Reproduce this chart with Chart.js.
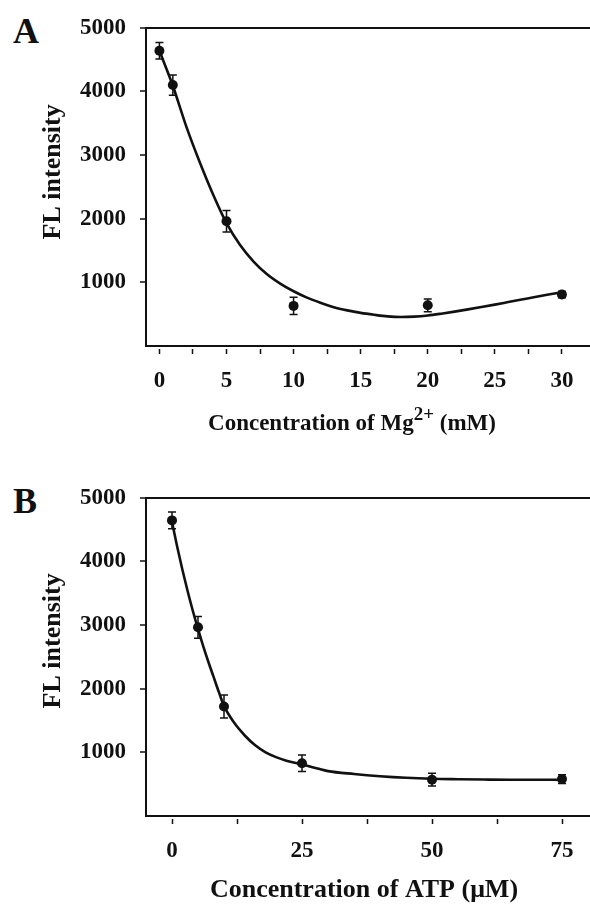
<!DOCTYPE html>
<html>
<head>
<meta charset="utf-8">
<script src="https://cdn.jsdelivr.net/npm/chart.js@4/dist/chart.umd.min.js"></script>
<style>
  html, body { margin:0; padding:0; background:#fff; }
  body { width:590px; height:904px; overflow:hidden; position:relative; }
  canvas { position:absolute; left:0; }
  #cA { top:0; }
  #cB { top:470px; }
  .panel { position:absolute; left:13px; font:bold 36px "Liberation Serif", "Times New Roman", serif; line-height:36px; color:#111; }
</style>
</head>
<body>
<div class="panel" style="top:13px">A</div>
<div class="panel" style="top:483px">B</div>
<canvas id="cA" width="634" height="452"></canvas>
<canvas id="cB" width="619" height="452"></canvas>
<script>
// ---- Panel A: Mg2+ ----
const mgConc = [0, 1, 5, 10, 20, 30];
const mgFL   = [4640, 4100, 1960, 630, 640, 810];
const mgErr  = [130, 160, 170, 135, 100, 50];
const mgFitX = [0, 1, 2, 3, 4, 5, 6, 7, 8, 9, 10, 11, 12, 13, 14, 15, 16, 17, 18, 19, 20, 21, 22, 23, 24, 25, 26, 27, 28, 29, 30];
const mgFitY = [4640, 4090, 3450, 2890, 2380, 1930, 1590, 1330, 1130, 980, 860, 760, 680, 610, 560, 520, 490, 465, 455, 462, 480, 508, 540, 575, 612, 650, 690, 730, 770, 808, 845];
const mgTickValues = [0, 2.5, 5, 7.5, 10, 12.5, 15, 17.5, 20, 22.5, 25, 27.5, 30];
const mgTickLabels = ['0', '', '5', '', '10', '', '15', '', '20', '', '25', '', '30'];

// ---- Panel B: ATP ----
const atpConc = [0, 5, 10, 25, 50, 75];
const atpFL   = [4645, 2965, 1720, 830, 570, 580];
const atpErr  = [130, 170, 180, 130, 100, 70];
const atpFitX = [0, 1, 2, 3, 4, 5, 6, 7, 8, 9, 10, 12, 14, 16, 18, 20, 22, 25, 28, 30, 35, 40, 45, 50, 55, 60, 65, 70, 75];
const atpFitY = [4620, 4230, 3870, 3535, 3225, 2940, 2670, 2420, 2185, 1950, 1730, 1460, 1265, 1110, 1000, 925, 870, 810, 745, 705, 660, 625, 600, 585, 578, 573, 570, 570, 568];
const atpTickValues = [0, 12.5, 25, 37.5, 50, 62.5, 75];
const atpTickLabels = ['0', '', '25', '', '50', '', '75'];

// ---- shared y axis ----
const yTickValues = [1000, 2000, 3000, 4000, 5000];
const yTickLabels = ['1000', '2000', '3000', '4000', '5000'];
const yTitleText = 'FL intensity';

const FONT = '"Liberation Serif", "Times New Roman", serif';
const INK = '#111';

const errorBars = {
  id: 'errorBars',
  afterDatasetsDraw(chart) {
    const ctx = chart.ctx, xs = chart.scales.x, ys = chart.scales.y;
    chart.data.datasets.forEach(ds => {
      if (!ds.errors) return;
      ctx.save();
      ctx.strokeStyle = INK; ctx.lineWidth = 1.5;
      ds.data.forEach((d, i) => {
        const x = xs.getPixelForValue(d.x);
        const yt = ys.getPixelForValue(d.y + ds.errors[i]);
        const yb = ys.getPixelForValue(d.y - ds.errors[i]);
        ctx.beginPath();
        ctx.moveTo(x, yt); ctx.lineTo(x, yb);
        ctx.moveTo(x - 4, yt); ctx.lineTo(x + 4, yt);
        ctx.moveTo(x - 4, yb); ctx.lineTo(x + 4, yb);
        ctx.stroke();
      });
      ctx.restore();
    });
  }
};

// axis titles (x title supports a superscript part)
const axisTitles = {
  id: 'axisTitles',
  afterDraw(chart, args, opts) {
    const ctx = chart.ctx, area = chart.chartArea;
    ctx.save();
    ctx.fillStyle = INK;
    ctx.textBaseline = 'alphabetic';
    // x title
    const f = p => `bold ${p.sup ? opts.supSize : opts.size}px ${FONT}`;
    let total = 0;
    opts.parts.forEach(p => { ctx.font = f(p); total += ctx.measureText(p.text).width; });
    let x = opts.centerX - total / 2;
    ctx.textAlign = 'left';
    opts.parts.forEach(p => {
      ctx.font = f(p);
      ctx.fillText(p.text, x, p.sup ? opts.y - opts.supRise : opts.y);
      x += ctx.measureText(p.text).width;
    });
    // y title
    ctx.translate(opts.yBaseX, (area.top + area.bottom) / 2 + opts.yShift);
    ctx.rotate(-Math.PI / 2);
    ctx.textAlign = 'center';
    ctx.font = `bold ${opts.ySize}px ${FONT}`;
    ctx.fillText(opts.yText, 0, 0);
    ctx.restore();
  }
};

function makeChart(id, conc, fl, err, fitX, fitY, xMin, xMax, tickVals, tickLabels, titleOpts) {
  return new Chart(document.getElementById(id), {
    type: 'scatter',
    data: {
      datasets: [
        {
          label: 'fit',
          data: fitX.map((x, i) => ({ x, y: fitY[i] })),
          showLine: true,
          borderColor: INK,
          borderWidth: 2.6,
          pointRadius: 0,
          cubicInterpolationMode: 'monotone',
          order: 2
        },
        {
          label: 'FL intensity',
          data: conc.map((x, i) => ({ x, y: fl[i] })),
          errors: err,
          pointRadius: 5,
          pointBackgroundColor: INK,
          pointBorderColor: INK,
          pointBorderWidth: 0,
          order: 1
        }
      ]
    },
    options: {
      responsive: false,
      animation: false,
      devicePixelRatio: 1,
      layout: { padding: { top: 25, left: 0, right: 0, bottom: 0 } },
      plugins: {
        legend: { display: false },
        tooltip: { enabled: false },
        axisTitles: titleOpts
      },
      scales: {
        x: {
          type: 'linear',
          position: 'bottom',
          min: xMin, max: xMax,
          afterBuildTicks: s => { s.ticks = tickVals.map(v => ({ value: v })); },
          afterFit: s => { s.height = 106; },
          border: { display: true, color: INK, width: 2 },
          grid: {
            drawOnChartArea: false,
            drawTicks: true,
            tickLength: 8,
            tickColor: INK,
            tickWidth: 1.5,
            tickBorderDash: [0, 2, 6, 10]
          },
          ticks: {
            autoSkip: false, maxRotation: 0,
            padding: 13,
            color: INK,
            font: { family: FONT, size: 23, weight: 'bold' },
            callback: (v, i) => tickLabels[i]
          }
        },
        y: {
          type: 'linear',
          min: 0, max: 5000,
          afterBuildTicks: s => { s.ticks = yTickValues.map(v => ({ value: v })); },
          afterFit: s => { s.width = 146; },
          border: { display: true, color: INK, width: 2 },
          grid: {
            drawTicks: true,
            tickLength: 6,
            tickColor: INK,
            tickWidth: 1.5,
            lineWidth: 2,
            color: c => (c.tick && c.tick.value === 5000) ? INK : 'rgba(0,0,0,0)'
          },
          ticks: {
            padding: 14,
            color: INK,
            font: { family: FONT, size: 23, weight: 'bold' },
            callback: (v, i) => yTickLabels[i]
          }
        }
      }
    },
    plugins: [errorBars, axisTitles]
  });
}

makeChart('cA', mgConc, mgFL, mgErr, mgFitX, mgFitY, -1, 35, mgTickValues, mgTickLabels,
  { parts: [{ text: 'Concentration of Mg' }, { text: '2+', sup: true }, { text: ' (mM)' }],
    size: 23, supSize: 19, supRise: 10, centerX: 352, y: 430,
    yText: yTitleText, ySize: 26, yBaseX: 60, yShift: -15 });

makeChart('cB', atpConc, atpFL, atpErr, atpFitX, atpFitY, -5, 85, atpTickValues, atpTickLabels,
  { parts: [{ text: 'Concentration of ATP (μM)' }],
    size: 26, supSize: 20, supRise: 10, centerX: 364, y: 427,
    yText: yTitleText, ySize: 26, yBaseX: 60, yShift: -16 });
</script>
</body>
</html>
